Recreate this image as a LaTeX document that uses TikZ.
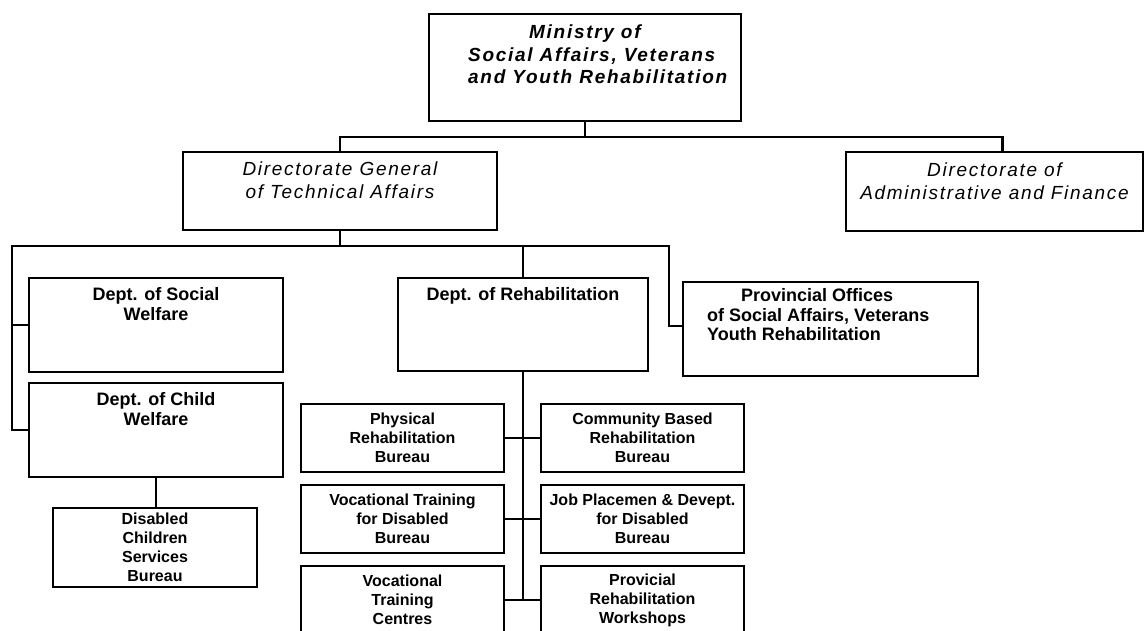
\documentclass[tikz,border=0pt]{standalone}
\usepackage{fontspec}
\setmainfont{Liberation Sans}
\newfontfamily\widefont[LetterSpace=9]{Liberation Sans}
\usepackage{tikz}
\usetikzlibrary{positioning}
\tikzset{
  unit/.style={draw, line width=2.8pt, inner sep=0pt, outer sep=0pt, anchor=north west},
  head/.style={anchor=north, inner sep=0pt, align=center, font=\widefont\itshape\fontsize{19}{22.5}\selectfont},
  headb/.style={head, font=\widefont\bfseries\itshape\fontsize{19}{22.5}\selectfont},
  dept/.style={anchor=north, inner sep=0pt, align=center, font=\bfseries\fontsize{18}{19.5}\selectfont},
  bureau/.style={unit, align=center, font=\bfseries\fontsize{16}{19}\selectfont, minimum width=203pt, minimum height=68pt},
  link/.style={line width=2.2pt},
}
\begin{document}
\begin{tikzpicture}[x=1pt, y=-1pt]
  \useasboundingbox (0,0) rectangle (1146,631);
  \clip (0,0) rectangle (1146,631);
  \node[unit, minimum width=312pt, minimum height=107pt, label={[headb, anchor=north west, align=left, xshift=39pt, yshift=-11pt]north west:{\hspace*{61pt}Ministry of\\Social Affairs, Veterans\\and Youth Rehabilitation}}] (ministry) at (429,14) {};
  \node[unit, minimum width=314pt, minimum height=78pt, label={[head, yshift=-10pt]north:{Directorate General\\of Technical Affairs}}] (dgta) at (183,152) {};
  \node[unit, minimum width=297pt, minimum height=79pt, label={[head, yshift=-11pt]north:{Directorate of\\Administrative and Finance}}] (daf) at (846,152) {};
  \node[unit, minimum width=254pt, minimum height=94pt, label={[dept, yshift=-9.3pt]north:{Dept. of Social\\Welfare}}] (dsw) at (29,278) {};
  \node[unit, minimum width=254pt, minimum height=94pt, label={[dept, yshift=-9.3pt]north:{Dept. of Child\\Welfare}}] (dcw) at (29,383) {};
  \node[unit, minimum width=250pt, minimum height=93pt, label={[dept, yshift=-9.3pt]north:{Dept. of Rehabilitation}}] (dr) at (398,278) {};
  \node[unit, minimum width=295pt, minimum height=94pt, label={[dept, anchor=north west, align=left, xshift=24pt, yshift=-6.3pt]north west:{\hspace*{34pt}Provincial Offices\\of Social Affairs, Veterans\\Youth Rehabilitation}}] (po) at (683,282) {};
  \node[bureau, minimum width=204pt, minimum height=79pt] (dcs) at (53,508) {Disabled\\Children\\Services\\Bureau};
  \node[bureau] (prb) at (301,404) {Physical\\Rehabilitation\\Bureau};
  \node[bureau] (vtd) at (301,485) {Vocational Training\\for Disabled\\Bureau};
  \node[bureau] (vtc) at (301,566) {Vocational\\Training\\Centres};
  \node[bureau] (cbr) at (541,404) {Community Based\\Rehabilitation\\Bureau};
  \node[bureau] (jpd) at (541,485) {Job Placemen \& Devept.\\for Disabled\\Bureau};
  \node[bureau] (prw) at (541,566) {Provicial\\Rehabilitation\\Workshops};
  \coordinate (mbus) at (585,137);
  \coordinate (lbus) at (12,246);
  \coordinate (pbus) at (669,246);
  \draw[link] (ministry.south) -- (mbus);
  \draw[link] (dgta.north) |- (mbus) -| ([xshift=8pt]daf.north);
  \draw[link] (dgta.south) -- (dgta.south |- lbus);
  \draw[link] (dcw.west) -| (lbus) -- (pbus) |- ([yshift=3pt]po.west);
  \draw[link] (dsw.west) -- (dsw.west -| lbus);
  \draw[link] (dr.north) -- (dr.north |- lbus);
  \draw[link] (dcw.south) -- (dcw.south |- dcs.north);
  \draw[link] (dr.south) -- (dr.south |- vtc.east);
  \draw[link] (prb.east) -- (cbr.west);
  \draw[link] (vtd.east) -- (jpd.west);
  \draw[link] (vtc.east) -- (prw.west);
\end{tikzpicture}
\end{document}
